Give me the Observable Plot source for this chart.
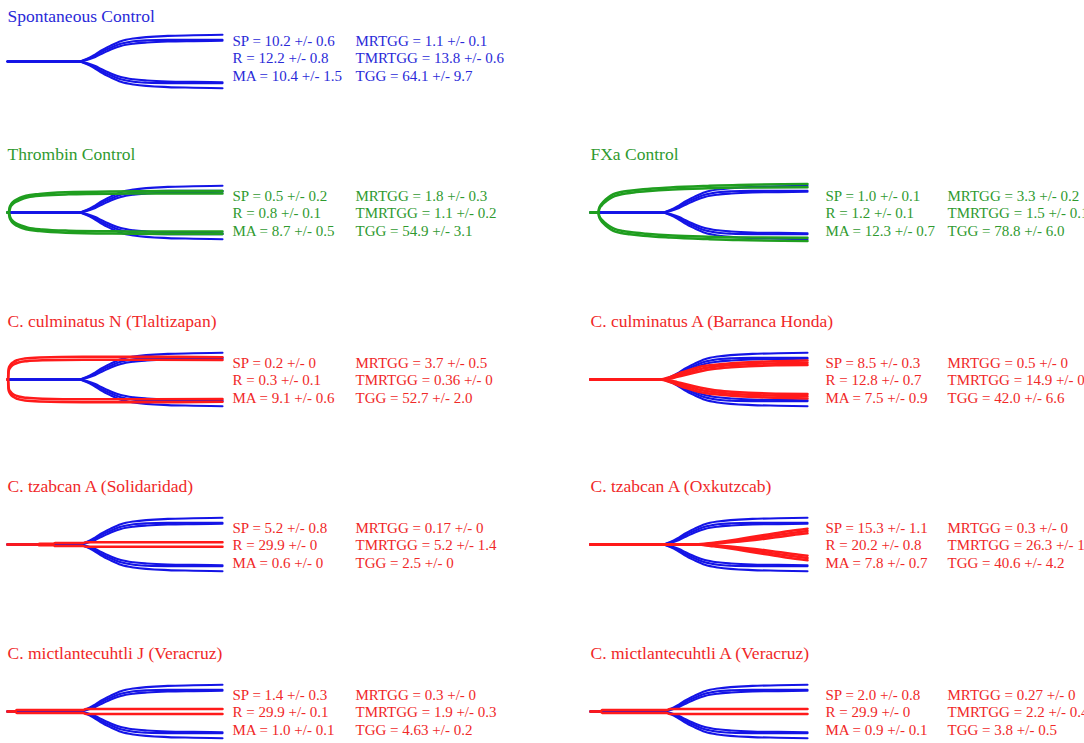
<!DOCTYPE html>
<html>
<head>
<meta charset="utf-8">
<script src="https://cdn.jsdelivr.net/npm/d3@7"></script>
<script src="https://cdn.jsdelivr.net/npm/@observablehq/plot@0.6"></script>
<style>
html, body { margin: 0; padding: 0; background: #fff; }
#root { position: relative; width: 1084px; height: 743px; overflow: hidden; background: #fff; }
.panel { position: absolute; }
.panel svg { max-width: none !important; display: block; }
</style>
</head>
<body>
<div id="root"></div>
<script>
// ---------------- DATA ----------------
// Panel titles (reading order)
const titles = [
  "Spontaneous Control",
  "Thrombin Control",
  "FXa Control",
  "C. culminatus N (Tlaltizapan)",
  "C. culminatus A (Barranca Honda)",
  "C. tzabcan A (Solidaridad)",
  "C. tzabcan A (Oxkutzcab)",
  "C. mictlantecuhtli J (Veracruz)",
  "C. mictlantecuhtli A (Veracruz)"
];
const groups = ["control", "activator", "activator", "venom", "venom", "venom", "venom", "venom", "venom"];

// Parameters (mean +/- sd) per panel
const SP     = ["10.2 +/- 0.6", "0.5 +/- 0.2", "1.0 +/- 0.1", "0.2 +/- 0", "8.5 +/- 0.3", "5.2 +/- 0.8", "15.3 +/- 1.1", "1.4 +/- 0.3", "2.0 +/- 0.8"];
const R      = ["12.2 +/- 0.8", "0.8 +/- 0.1", "1.2 +/- 0.1", "0.3 +/- 0.1", "12.8 +/- 0.7", "29.9 +/- 0", "20.2 +/- 0.8", "29.9 +/- 0.1", "29.9 +/- 0"];
const MA     = ["10.4 +/- 1.5", "8.7 +/- 0.5", "12.3 +/- 0.7", "9.1 +/- 0.6", "7.5 +/- 0.9", "0.6 +/- 0", "7.8 +/- 0.7", "1.0 +/- 0.1", "0.9 +/- 0.1"];
const MRTGG  = ["1.1 +/- 0.1", "1.8 +/- 0.3", "3.3 +/- 0.2", "3.7 +/- 0.5", "0.5 +/- 0", "0.17 +/- 0", "0.3 +/- 0", "0.3 +/- 0", "0.27 +/- 0"];
const TMRTGG = ["13.8 +/- 0.6", "1.1 +/- 0.2", "1.5 +/- 0.1", "0.36 +/- 0", "14.9 +/- 0.9", "5.2 +/- 1.4", "26.3 +/- 1.2", "1.9 +/- 0.3", "2.2 +/- 0.4"];
const TGG    = ["64.1 +/- 9.7", "54.9 +/- 3.1", "78.8 +/- 6.0", "52.7 +/- 2.0", "42.0 +/- 6.6", "2.5 +/- 0", "40.6 +/- 4.2", "4.63 +/- 0.2", "3.8 +/- 0.5"];

// Tracings: [time (min), amplitude] — spontaneous control (mean and +/- sd envelopes)
const ctrlHi  = [[0,0],[12.2,0],[13.6,2.5],[14.8,6],[16.0,10.6],[17.8,16],[19.5,20.3],[21.7,23],[27.6,25.6],[32,26.2],[37,26.8]];
const ctrlMid = [[0,0],[12.3,0],[13.7,2.2],[14.9,5.2],[16.1,9.3],[17.9,14.2],[19.5,17.8],[21.7,20.3],[24,21.2],[27.6,21.6],[37,21.8]];
const ctrlLo  = [[0,0],[12.4,0],[13.9,2],[15.1,4.5],[16.3,8],[18,12.5],[19.5,15.5],[21.7,17.8],[24,19],[27.6,20],[32,20.4],[37,20.7]];

const thrombinHi = [[0,0],[0.2,0],[0.35,5],[0.65,8.5],[1.2,11.7],[2.0,14.3],[3.2,16.7],[5.5,18.5],[10,20.2],[18,21.1],[28,21.4],[37,21.5]];
const thrombinLo = [[0,0],[0.25,0],[0.45,4.5],[0.8,7.8],[1.4,10.5],[2.3,13],[3.5,15.2],[6,17],[10.5,18.2],[18,18.8],[28,19],[37,19]];

const fxaHi = [[0,0],[1.3,0],[1.45,4],[1.8,8],[2.3,11.5],[3.0,15],[3.9,18.3],[5.2,20.5],[6.7,21.7],[9,23.2],[13.6,25],[20,26.6],[25.2,27.6],[37,28.4]];
const fxaLo = [[0,0],[1.35,0],[1.5,3.5],[1.9,7],[2.45,10.3],[3.2,13.5],[4.1,16.3],[5.5,18.5],[7,19.8],[9.5,21.2],[14,23],[20,24.2],[25.5,24.9],[37,25.3]];

const culNHi = [[0,0],[0.1,0],[0.13,6],[0.2,11],[0.5,14.5],[1.0,17.3],[1.7,19.4],[3,21],[5.5,22],[13,22.7],[25,22.7],[37,22.3]];
const culNLo = [[0,0],[0.12,0],[0.16,5],[0.25,9.5],[0.6,12.8],[1.15,15.3],[1.9,17],[3.3,18.3],[6,19.2],[13,19.7],[25,19.7],[37,19.5]];

const culAHi  = [[0,0],[11.8,0],[13,1.5],[14.2,4],[15.5,7],[17,9.8],[18.4,12.3],[21.2,14.8],[24,16.3],[27,17.3],[32,18.3],[37,19]];
const culAMid = [[0,0],[12.1,0],[13.3,1.3],[14.5,3.3],[15.8,5.7],[17.2,8],[18.6,10.3],[21.2,12.8],[24,14.3],[27,15.3],[32,16.3],[37,16.8]];
const culALo  = [[0,0],[12.4,0],[13.6,1],[14.8,2.7],[16.1,4.5],[17.5,6.5],[18.8,8.3],[21.2,10.7],[24,12.2],[27,13.3],[32,14.2],[37,14.6]];

const tzSol = [[0,0],[5.2,0],[5.5,0.8],[7.9,0.8],[8.2,1.6],[13,1.6],[13.5,2.2],[37,2.2]];

const tzOxHi  = [[0,0],[18,0],[21,1.8],[25,5],[28,8],[31.5,11.2],[34,13.5],[37,15.8]];
const tzOxMid = [[0,0],[18.3,0],[21.5,1.6],[25.2,3.9],[28.5,6.6],[31.5,9.3],[34.3,11.5],[37,13.5]];
const tzOxLo  = [[0,0],[18.6,0],[22,1.2],[25.5,2.9],[29,5.2],[32,7.5],[34.5,9.5],[37,11.2]];

const micJ = [[0,0],[1.3,0],[1.6,1.4],[13,1.4],[13.5,2.5],[37,2.5]];
const micA = [[0,0],[1.7,0],[2,1.4],[13,1.4],[13.5,2.4],[37,2.4]];

const controlCurves = [ctrlHi, ctrlMid, ctrlLo];
const testCurves = [
  [],
  [thrombinHi, thrombinLo],
  [fxaHi, fxaLo],
  [culNHi, culNLo],
  [culAHi, culAMid, culALo],
  [tzSol],
  [tzOxHi, tzOxMid, tzOxLo],
  [micJ],
  [micA]
];

// ---------------- STYLE / LAYOUT ----------------
const lineColor = {control: "#1414e6", activator: "#1f9e1f", venom: "#ff1a1a"};
const textColor = {control: "#2a2ad8", activator: "#2f9a2f", venom: "#f02828"};
const serif = "'Liberation Serif', 'Times New Roman', serif";
const cells = [[0,0],[0,1],[1,1],[0,2],[1,2],[0,3],[1,3],[0,4],[1,4]]; // [col,row]
const rowCenter = [60.5, 212, 378.5, 544.2, 711];
const colLeft = [0, 583];
const colWidth = [583, 501];
const colRange = [[7, 222], [7, 224]];
const statDx = [[225, 348], [235, 357]];
const centerFromTop = 70;

function mirrored(curves) {
  const rows = [];
  curves.forEach((c, i) => {
    for (const s of [1, -1]) {
      for (const [t, a] of c) rows.push({t, a: s * a, key: i + ":" + s});
    }
  });
  return rows;
}

const root = document.getElementById("root");
titles.forEach((title, p) => {
  const [col, row] = cells[p];
  const g = groups[p];
  const rowShift = row === 0 ? -3.8 : 0;
  const statRows = [-12, 5.6, 23.3].map(v => centerFromTop + v + rowShift);
  const titleDy = row === 0 ? 30 : 17.5;
  const tcol = textColor[g];
  const marks = [
    Plot.line(mirrored(controlCurves), {x: "t", y: "a", z: "key", stroke: lineColor.control, strokeWidth: 2.1, curve: "monotone-x"})
  ];
  if (testCurves[p].length) {
    marks.push(Plot.line(mirrored(testCurves[p]), {x: "t", y: "a", z: "key", stroke: lineColor[g], strokeWidth: 2.5, curve: "monotone-x"}));
  }
  marks.push(Plot.text([title], {text: d => d, frameAnchor: "top-left", dy: titleDy, lineAnchor: "bottom", textAnchor: "start", fill: tcol, fontSize: 17.5, fontFamily: serif}));
  const col1 = ["SP = " + SP[p], "R = " + R[p], "MA = " + MA[p]];
  const col2 = ["MRTGG = " + MRTGG[p], "TMRTGG = " + TMRTGG[p], "TGG = " + TGG[p]];
  [col1, col2].forEach((lines, c) => {
    lines.forEach((s, r) => {
      marks.push(Plot.text([s], {text: d => d, frameAnchor: "top-left", dx: statDx[col][c], dy: statRows[r], lineAnchor: "bottom", textAnchor: "start", fill: tcol, fontSize: 15, fontFamily: serif}));
    });
  });
  const chart = Plot.plot({
    width: colWidth[col],
    height: 105,
    marginTop: 0, marginBottom: 0, marginLeft: 7, marginRight: 0,
    x: {domain: [0, 37], range: colRange[col], axis: null},
    y: {domain: [-35, 70], axis: null},
    marks
  });
  const div = document.createElement("div");
  div.className = "panel";
  div.style.left = colLeft[col] + "px";
  div.style.top = (rowCenter[row] - centerFromTop) + "px";
  div.style.width = colWidth[col] + "px";
  div.appendChild(chart);
  root.appendChild(div);
});
</script>
</body>
</html>
